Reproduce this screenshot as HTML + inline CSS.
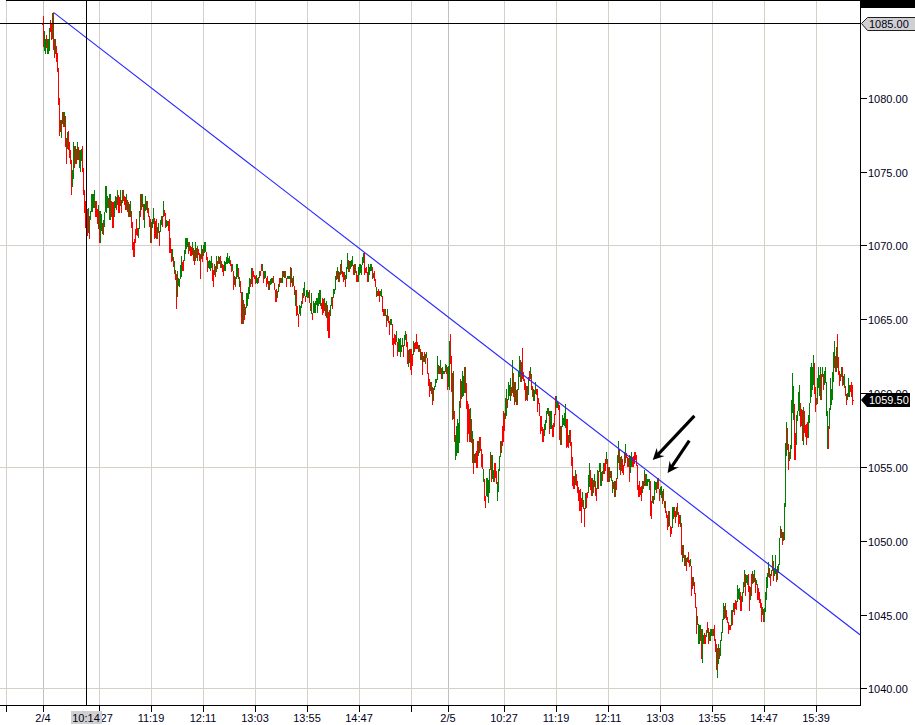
<!DOCTYPE html>
<html><head><meta charset="utf-8"><title>Chart</title>
<style>
html,body{margin:0;padding:0;background:#fff;overflow:hidden}
svg{display:block}
text{font-family:"Liberation Sans",sans-serif;font-size:11px;fill:#000020}
</style></head>
<body>
<svg width="915" height="725" viewBox="0 0 915 725">
<rect width="915" height="725" fill="#fff"/>
<g shape-rendering="crispEdges" stroke-width="1">
<line x1="6.5" y1="1" x2="6.5" y2="705" stroke="#d4d0c8"/>
<line x1="43.5" y1="1" x2="43.5" y2="705" stroke="#c0c0c0"/>
<line x1="99.5" y1="1" x2="99.5" y2="705" stroke="#d4d0c8"/>
<line x1="151.5" y1="1" x2="151.5" y2="705" stroke="#d4d0c8"/>
<line x1="203.5" y1="1" x2="203.5" y2="705" stroke="#d4d0c8"/>
<line x1="255.5" y1="1" x2="255.5" y2="705" stroke="#d4d0c8"/>
<line x1="307.5" y1="1" x2="307.5" y2="705" stroke="#d4d0c8"/>
<line x1="359.5" y1="1" x2="359.5" y2="705" stroke="#d4d0c8"/>
<line x1="411.5" y1="1" x2="411.5" y2="705" stroke="#d4d0c8"/>
<line x1="448.5" y1="1" x2="448.5" y2="705" stroke="#c0c0c0"/>
<line x1="504.5" y1="1" x2="504.5" y2="705" stroke="#d4d0c8"/>
<line x1="556.5" y1="1" x2="556.5" y2="705" stroke="#d4d0c8"/>
<line x1="608.5" y1="1" x2="608.5" y2="705" stroke="#d4d0c8"/>
<line x1="660.5" y1="1" x2="660.5" y2="705" stroke="#d4d0c8"/>
<line x1="712.5" y1="1" x2="712.5" y2="705" stroke="#d4d0c8"/>
<line x1="764.5" y1="1" x2="764.5" y2="705" stroke="#d4d0c8"/>
<line x1="816.5" y1="1" x2="816.5" y2="705" stroke="#d4d0c8"/>
<line x1="0" y1="245.5" x2="860" y2="245.5" stroke="#d4d0c8"/>
<line x1="0" y1="467.5" x2="860" y2="467.5" stroke="#d4d0c8"/>
<line x1="0" y1="688.5" x2="860" y2="688.5" stroke="#d4d0c8"/>
</g>
<g shape-rendering="crispEdges" fill="none" stroke-width="1">
<path stroke="#ff0000" d="M42.5 23V25M43.5 16V47M46.5 35V48M50.5 20V32M51.5 24V40M53.5 13V50M54.5 39V58M56.5 46V62M57.5 53V72M58.5 68V105M59.5 98V136M60.5 120V132M63.5 112V127M65.5 116V147M66.5 138V164M68.5 131V150M69.5 142V158M70.5 150V164M71.5 160V195M74.5 146V168M76.5 149V164M78.5 147V160M82.5 146V172M83.5 168V195M84.5 190V213M85.5 201V228M86.5 206V217M87.5 209V236M89.5 216V239M95.5 201V217M96.5 201V217M97.5 209V224M99.5 211V243M102.5 223V234M108.5 198V208M111.5 201V217M112.5 202V228M113.5 202V228M116.5 197V210M118.5 195V213M119.5 197V213M121.5 200V213M123.5 190V201M124.5 196V205M125.5 197V210M127.5 200V212M128.5 202V217M131.5 211V228M132.5 222V250M133.5 242V257M134.5 239V257M135.5 229V243M136.5 219V235M137.5 228V236M140.5 194V217M143.5 204V220M147.5 201V213M148.5 208V217M149.5 216V227M150.5 219V243M154.5 218V239M155.5 221V238M156.5 219V239M159.5 231V246M162.5 216V227M164.5 210V216M165.5 213V228M168.5 221V231M169.5 219V253M170.5 238V253M171.5 249V262M173.5 257V267M175.5 270V280M176.5 274V309M182.5 262V271M183.5 260V271M188.5 242V254M190.5 246V256M191.5 247V256M193.5 248V261M194.5 250V265M196.5 248V258M198.5 249V255M199.5 253V261M200.5 254V279M202.5 249V262M206.5 252V260M207.5 257V272M212.5 263V281M213.5 270V287M215.5 266V277M217.5 261V269M219.5 257V264M220.5 256V268M222.5 264V272M223.5 265V276M230.5 260V266M231.5 264V272M233.5 271V290M235.5 277V287M238.5 268V279M240.5 281V293M241.5 292V324M243.5 300V324M244.5 304V320M250.5 279V287M252.5 268V287M253.5 271V277M254.5 275V279M255.5 276V284M258.5 277V283M260.5 271V276M261.5 264V271M263.5 271V283M266.5 278V287M267.5 276V284M268.5 281V290M273.5 276V283M274.5 283V290M275.5 290V302M276.5 289V302M279.5 278V287M281.5 278V283M283.5 271V277M285.5 271V278M286.5 278V287M290.5 267V287M292.5 278V287M294.5 286V295M296.5 290V316M297.5 306V315M298.5 314V327M302.5 293V304M305.5 296V302M309.5 290V303M310.5 303V311M312.5 313V320M321.5 303V309M322.5 298V315M323.5 299V313M325.5 303V316M327.5 305V331M328.5 312V338M329.5 310V338M332.5 297V309M336.5 271V280M339.5 272V282M340.5 264V275M342.5 271V277M343.5 272V282M345.5 275V287M348.5 260V272M353.5 265V275M355.5 264V273M356.5 271V282M357.5 275V282M364.5 253V275M365.5 268V273M366.5 267V273M367.5 272V282M372.5 267V279M374.5 271V281M375.5 279V287M377.5 291V296M378.5 289V296M379.5 291V302M382.5 296V312M383.5 309V316M384.5 309V316M386.5 315V327M388.5 316V323M389.5 321V335M392.5 324V345M393.5 338V357M394.5 334V344M395.5 335V345M397.5 342V356M403.5 345V357M406.5 334V347M407.5 342V364M409.5 349V363M410.5 349V370M411.5 349V375M412.5 354V366M414.5 343V352M415.5 342V349M416.5 334V349M417.5 342V349M418.5 345V352M420.5 349V360M422.5 352V375M424.5 352V362M427.5 358V374M428.5 373V386M429.5 379V397M431.5 382V394M432.5 387V405M439.5 366V374M441.5 368V379M444.5 371V374M447.5 367V390M450.5 334V364M451.5 356V392M452.5 373V420M454.5 411V442M460.5 379V408M465.5 367V393M466.5 383V409M467.5 401V442M468.5 404V434M469.5 409V442M471.5 419V443M473.5 439V474M474.5 454V463M476.5 451V468M477.5 441V468M479.5 437V453M480.5 437V451M481.5 449V467M482.5 454V469M484.5 479V501M485.5 496V508M491.5 455V482M494.5 463V482M495.5 463V478M496.5 471V484M501.5 441V453M502.5 426V446M503.5 411V442M504.5 413V431M507.5 399V408M511.5 387V396M513.5 373V397M514.5 382V405M516.5 390V405M520.5 360V382M522.5 348V379M523.5 372V381M524.5 379V390M525.5 383V401M527.5 386V401M529.5 371V381M531.5 374V390M532.5 386V397M536.5 389V395M537.5 389V412M538.5 398V404M539.5 403V416M540.5 416V434M541.5 416V431M542.5 427V442M543.5 429V442M549.5 411V434M552.5 425V437M553.5 423V437M554.5 414V427M555.5 396V415M558.5 403V410M559.5 405V440M560.5 426V445M566.5 419V448M567.5 419V447M568.5 435V448M570.5 430V446M571.5 442V466M572.5 457V486M573.5 476V489M574.5 476V489M576.5 474V486M577.5 481V493M578.5 487V501M579.5 490V511M580.5 489V511M581.5 498V523M583.5 500V509M584.5 508V527M586.5 493V508M587.5 492V498M590.5 470V490M591.5 478V496M593.5 480V493M595.5 481V496M596.5 488V501M598.5 471V489M602.5 471V481M604.5 463V474M605.5 459V471M607.5 459V482M608.5 467V482M610.5 471V478M613.5 482V489M614.5 481V497M616.5 478V490M619.5 449V470M620.5 457V475M622.5 459V473M623.5 465V475M624.5 452V466M626.5 453V458M627.5 457V467M629.5 455V482M632.5 457V467M633.5 456V467M634.5 452V464M635.5 452V460M636.5 455V466M637.5 465V490M638.5 485V497M639.5 481V497M640.5 487V495M641.5 486V501M643.5 481V489M645.5 474V486M650.5 481V516M651.5 501V519M652.5 496V503M656.5 482V493M658.5 478V489M659.5 489V501M662.5 491V504M665.5 501V513M666.5 511V518M667.5 515V530M668.5 511V527M670.5 526V537M671.5 527V534M674.5 507V517M675.5 511V523M677.5 503V515M678.5 512V527M679.5 515V524M681.5 523V555M683.5 545V558M684.5 555V566M686.5 558V571M688.5 552V563M689.5 560V567M691.5 566V596M692.5 577V589M694.5 582V594M695.5 593V608M696.5 607V634M701.5 629V659M704.5 633V644M705.5 635V644M707.5 622V633M708.5 628V644M712.5 629V636M714.5 625V641M715.5 639V652M716.5 644V670M719.5 648V659M724.5 606V619M726.5 610V620M727.5 617V623M728.5 622V634M729.5 625V630M730.5 625V630M732.5 610V625M734.5 603V615M735.5 600V609M736.5 601V610M740.5 592V611M741.5 596V611M745.5 574V596M748.5 574V592M749.5 586V611M751.5 574V596M753.5 574V583M755.5 578V593M757.5 584V600M758.5 588V600M759.5 592V603M760.5 599V608M761.5 603V622M763.5 609V622M769.5 568V578M770.5 574V586M773.5 561V581M776.5 569V582M781.5 529V538M782.5 532V545M787.5 428V450M788.5 444V470M794.5 404V460M795.5 433V460M800.5 403V427M801.5 409V426M802.5 410V441M804.5 411V433M805.5 425V437M806.5 424V445M807.5 422V438M814.5 363V394M815.5 387V412M816.5 398V405M821.5 374V400M823.5 374V390M828.5 426V449M835.5 356V372M837.5 334V368M838.5 357V375M839.5 371V386M840.5 374V381M842.5 367V386M845.5 386V396M846.5 394V405M850.5 385V392M851.5 382V397M852.5 385V405M853.5 400V401"/>
<path stroke="#008000" d="M44.5 31V51M45.5 39V54M47.5 39V54M48.5 39V54M49.5 28V51M52.5 13V39M55.5 39V54M61.5 120V138M62.5 112V124M64.5 112V127M67.5 132V149M72.5 170V187M73.5 142V179M75.5 146V164M77.5 142V160M79.5 150V168M80.5 150V172M81.5 149V161M88.5 208V233M90.5 211V220M91.5 194V212M92.5 194V212M93.5 194V208M94.5 190V208M98.5 205V229M100.5 211V243M101.5 214V231M103.5 220V235M104.5 212V227M105.5 186V212M106.5 186V213M107.5 196V208M109.5 194V220M110.5 194V220M114.5 201V217M115.5 196V208M117.5 190V205M120.5 190V206M122.5 190V203M126.5 194V210M129.5 204V217M130.5 201V217M138.5 228V238M139.5 211V229M141.5 194V210M142.5 194V207M144.5 204V228M145.5 196V211M146.5 201V210M151.5 222V243M152.5 219V228M153.5 208V224M157.5 227V239M158.5 223V233M160.5 220V232M161.5 216V225M163.5 201V217M166.5 220V227M167.5 221V226M172.5 249V261M174.5 261V274M177.5 271V297M178.5 278V286M179.5 279V287M180.5 265V279M181.5 256V277M184.5 250V261M185.5 238V254M186.5 238V249M187.5 238V247M189.5 242V251M192.5 242V255M195.5 242V261M197.5 246V261M201.5 245V259M203.5 245V256M204.5 242V253M205.5 242V252M208.5 261V268M209.5 260V269M210.5 261V271M211.5 256V268M214.5 264V275M216.5 256V272M218.5 256V264M221.5 261V268M224.5 261V271M225.5 262V271M226.5 257V264M227.5 253V264M228.5 258V263M229.5 256V264M232.5 264V271M234.5 276V285M236.5 264V279M237.5 264V277M239.5 277V287M242.5 292V324M245.5 307V315M246.5 293V308M247.5 293V306M248.5 287V299M249.5 278V294M251.5 268V284M256.5 275V283M257.5 278V284M259.5 271V278M262.5 264V271M264.5 271V279M265.5 271V278M269.5 281V290M270.5 279V285M271.5 278V284M272.5 278V283M277.5 291V298M278.5 284V292M280.5 278V283M282.5 271V283M284.5 271V278M287.5 276V279M288.5 276V279M289.5 276V279M291.5 268V283M293.5 276V286M295.5 290V306M299.5 305V314M300.5 306V316M301.5 301V308M303.5 288V298M304.5 282V296M306.5 290V297M307.5 290V298M308.5 292V298M311.5 293V314M313.5 301V313M314.5 303V313M315.5 301V313M316.5 298V305M317.5 298V313M318.5 293V306M319.5 290V304M320.5 290V306M324.5 298V311M326.5 301V318M330.5 305V316M331.5 297V306M333.5 289V298M334.5 289V294M335.5 276V290M337.5 267V279M338.5 271V282M341.5 260V274M344.5 272V280M346.5 267V279M347.5 253V269M349.5 261V272M350.5 261V269M351.5 260V267M352.5 256V266M354.5 264V275M358.5 267V282M359.5 264V275M360.5 264V273M361.5 265V275M362.5 257V265M363.5 253V263M368.5 264V282M369.5 267V275M370.5 264V271M371.5 264V271M373.5 273V278M376.5 287V297M380.5 291V296M381.5 289V297M385.5 309V316M387.5 309V321M390.5 319V325M391.5 319V325M396.5 331V342M398.5 338V352M399.5 339V352M400.5 338V357M401.5 345V352M402.5 338V347M404.5 335V346M405.5 331V340M408.5 350V367M413.5 341V355M419.5 345V352M421.5 352V360M423.5 356V362M425.5 354V364M426.5 352V358M430.5 382V391M433.5 388V401M434.5 386V390M435.5 379V387M436.5 379V383M437.5 356V380M438.5 365V374M440.5 360V374M442.5 367V379M443.5 371V374M445.5 364V372M446.5 365V374M448.5 366V387M449.5 341V390M453.5 371V419M455.5 435V460M456.5 426V456M457.5 419V453M458.5 423V453M459.5 401V443M461.5 381V399M462.5 371V397M463.5 376V396M464.5 367V393M470.5 408V442M472.5 431V463M475.5 453V463M478.5 441V456M483.5 469V482M486.5 478V496M487.5 478V497M488.5 480V503M489.5 469V493M490.5 452V470M492.5 455V479M493.5 470V482M497.5 482V501M498.5 469V492M499.5 456V471M500.5 441V457M505.5 398V419M506.5 389V416M508.5 382V400M509.5 385V396M510.5 378V401M512.5 360V393M515.5 382V402M517.5 389V405M518.5 371V390M519.5 356V377M521.5 362V382M526.5 386V400M528.5 377V395M530.5 367V379M533.5 389V401M534.5 390V401M535.5 382V394M544.5 424V436M545.5 420V430M546.5 411V423M547.5 408V414M548.5 408V416M550.5 411V429M551.5 411V429M556.5 396V408M557.5 401V408M561.5 426V445M562.5 415V427M563.5 418V425M564.5 413V426M565.5 404V428M569.5 430V443M575.5 470V485M582.5 492V507M585.5 493V509M588.5 475V493M589.5 463V487M592.5 478V496M594.5 474V487M597.5 470V489M599.5 463V472M600.5 463V486M601.5 472V486M603.5 463V474M606.5 452V464M609.5 467V482M611.5 471V481M612.5 480V493M615.5 481V497M617.5 455V479M618.5 441V463M621.5 456V471M625.5 444V463M628.5 458V467M630.5 456V473M631.5 452V467M642.5 481V493M644.5 470V486M646.5 474V486M647.5 479V486M648.5 479V482M649.5 479V490M653.5 496V504M654.5 481V500M655.5 482V490M657.5 478V489M660.5 487V495M661.5 486V498M663.5 489V501M664.5 501V508M669.5 511V526M672.5 507V528M673.5 507V519M676.5 507V517M680.5 515V527M682.5 545V562M685.5 555V566M687.5 557V562M690.5 559V566M693.5 577V586M697.5 616V625M698.5 624V644M699.5 625V644M700.5 625V641M702.5 629V663M703.5 635V644M706.5 630V637M709.5 632V641M710.5 629V641M711.5 629V636M713.5 629V636M717.5 648V678M718.5 644V664M720.5 640V656M721.5 632V641M722.5 619V633M723.5 603V620M725.5 603V618M731.5 610V626M733.5 603V612M737.5 585V602M738.5 589V599M739.5 588V600M742.5 592V602M743.5 582V593M744.5 570V587M746.5 575V583M747.5 575V585M750.5 587V600M752.5 571V584M754.5 570V582M756.5 580V585M762.5 607V615M764.5 608V622M765.5 592V612M766.5 577V600M767.5 573V588M768.5 562V577M771.5 570V576M772.5 555V571M774.5 569V576M775.5 555V574M777.5 566V580M778.5 564V573M779.5 538V565M780.5 526V538M783.5 532V541M784.5 503V540M785.5 443V507M786.5 422V456M789.5 452V461M790.5 445V459M791.5 400V449M792.5 373V413M793.5 386V420M796.5 415V445M797.5 411V421M798.5 392V411M799.5 385V416M803.5 407V445M808.5 415V438M809.5 403V423M810.5 367V403M811.5 363V397M812.5 367V390M813.5 355V385M817.5 378V404M818.5 367V388M819.5 375V396M820.5 367V400M822.5 367V377M824.5 371V385M825.5 367V383M826.5 382V416M827.5 411V449M829.5 408V429M830.5 378V410M831.5 389V405M832.5 372V400M833.5 352V382M834.5 341V368M836.5 347V372M841.5 367V377M843.5 376V385M844.5 374V388M847.5 393V400M848.5 378V397M849.5 385V397"/>
</g>
<line x1="53.5" y1="12.4" x2="860" y2="634.8" stroke="#2828ff" stroke-width="1.15"/>
<g stroke="#000" stroke-width="3.1" fill="#000" stroke-linecap="butt">
<line x1="694.4" y1="415.9" x2="657.4" y2="455.1"/>
<line x1="689.3" y1="440.6" x2="671" y2="467.9"/>
</g>
<path fill="#000" d="M652.7 460.1L656.7 448.1Q657.6 452.6 658 454.4Q660.5 455.6 664.7 456.1Z"/>
<path fill="#000" d="M667.6 473L669.6 460.7Q670.9 465.0 671.8 466.8Q674.5 467.3 679.1 467.1Z"/>
<g shape-rendering="crispEdges" fill="#000">
<rect x="6" y="0" width="855" height="1"/>
<rect x="860" y="0" width="1" height="706"/>
<rect x="0" y="705" width="861" height="1"/>
<rect x="860" y="0" width="55" height="8"/>
<rect x="0" y="23" width="861" height="1"/>
<rect x="86" y="1" width="1" height="705"/>
<rect x="861" y="98" width="6" height="1"/>
<rect x="861" y="172" width="6" height="1"/>
<rect x="861" y="245" width="6" height="1"/>
<rect x="861" y="319" width="6" height="1"/>
<rect x="861" y="393" width="6" height="1"/>
<rect x="861" y="467" width="6" height="1"/>
<rect x="861" y="541" width="6" height="1"/>
<rect x="861" y="615" width="6" height="1"/>
<rect x="861" y="688" width="6" height="1"/>
<rect x="6" y="706" width="1" height="6"/>
<rect x="43" y="706" width="1" height="6"/>
<rect x="99" y="706" width="1" height="6"/>
<rect x="151" y="706" width="1" height="6"/>
<rect x="203" y="706" width="1" height="6"/>
<rect x="255" y="706" width="1" height="6"/>
<rect x="307" y="706" width="1" height="6"/>
<rect x="359" y="706" width="1" height="6"/>
<rect x="411" y="706" width="1" height="6"/>
<rect x="448" y="706" width="1" height="6"/>
<rect x="504" y="706" width="1" height="6"/>
<rect x="556" y="706" width="1" height="6"/>
<rect x="608" y="706" width="1" height="6"/>
<rect x="660" y="706" width="1" height="6"/>
<rect x="712" y="706" width="1" height="6"/>
<rect x="764" y="706" width="1" height="6"/>
<rect x="816" y="706" width="1" height="6"/>
</g>
<text x="868" y="103">1080.00</text>
<text x="868" y="177">1075.00</text>
<text x="868" y="250">1070.00</text>
<text x="868" y="324">1065.00</text>
<text x="868" y="398">1060.00</text>
<text x="868" y="472">1055.00</text>
<text x="868" y="546">1050.00</text>
<text x="868" y="620">1045.00</text>
<text x="868" y="693">1040.00</text>
<text x="43" y="722" text-anchor="middle">2/4</text>
<text x="99" y="722" text-anchor="middle">10:27</text>
<text x="151" y="722" text-anchor="middle">11:19</text>
<text x="203" y="722" text-anchor="middle">12:11</text>
<text x="255" y="722" text-anchor="middle">13:03</text>
<text x="307" y="722" text-anchor="middle">13:55</text>
<text x="359" y="722" text-anchor="middle">14:47</text>
<text x="448" y="722" text-anchor="middle">2/5</text>
<text x="504" y="722" text-anchor="middle">10:27</text>
<text x="556" y="722" text-anchor="middle">11:19</text>
<text x="608" y="722" text-anchor="middle">12:11</text>
<text x="660" y="722" text-anchor="middle">13:03</text>
<text x="712" y="722" text-anchor="middle">13:55</text>
<text x="764" y="722" text-anchor="middle">14:47</text>
<text x="816" y="722" text-anchor="middle">15:39</text>
<rect x="71" y="711" width="31" height="13" fill="#d0d0d0"/>
<text x="86" y="722" text-anchor="middle">10:14</text>
<path d="M861.5 23.5L867.5 17.5H916V30.5H867.5Z" fill="#d0d0d0" stroke="#202020" stroke-width="1"/>
<text x="869" y="28">1085.00</text>
<path d="M861 400L867 393H910V407H867Z" fill="#000"/>
<text x="869" y="404" style="fill:#fff">1059.50</text>
</svg>
</body></html>
